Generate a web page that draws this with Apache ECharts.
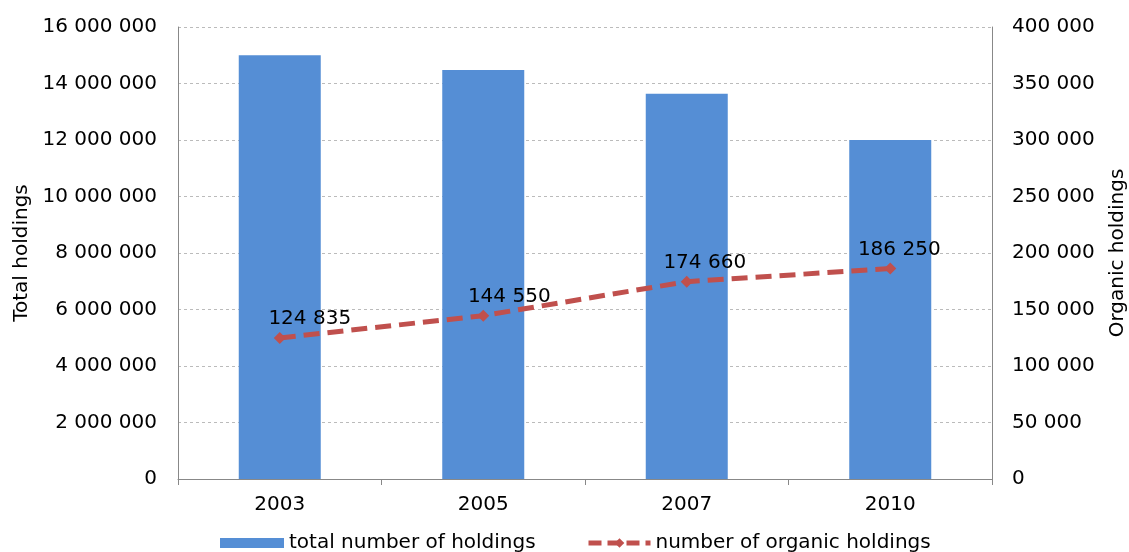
<!DOCTYPE html>
<html><head><meta charset="utf-8">
<script src="https://cdn.jsdelivr.net/npm/echarts@6/dist/echarts.min.js"></script>
<style>html,body{margin:0;padding:0;background:#fff}#c{width:1129px;height:552px}</style>
</head><body><div id="c"></div>
<script>
const categories = ['2003', '2005', '2007', '2010'];
const totalHoldings = [15000000, 14480000, 13640000, 12000000];
const organicHoldings = [124835, 144550, 174660, 186250];
const leftTicks = [0, 2000000, 4000000, 6000000, 8000000, 10000000, 12000000, 14000000, 16000000];
const rightTicks = [0, 50000, 100000, 150000, 200000, 250000, 300000, 350000, 400000];

const labelOffsets = [[30, 0], [26, 0], [18, 0], [9, 0]];
const fmt = v => String(v).replace(/\B(?=(\d{3})+(?!\d))/g, ' ');
const FONT = 'DejaVu Sans';
const FS = 20;

const chart = echarts.init(document.getElementById('c'), null, {renderer: 'canvas'});
chart.setOption({
  animation: false,
  textStyle: {fontFamily: FONT, color: '#000'},
  grid: {left: 178, right: 137, top: 27, bottom: 73, outerBoundsMode: 'none', containLabel: false},
  legend: [
    {data: ['total number of holdings'], left: 215, top: 528, itemWidth: 64, itemHeight: 10, itemGap: 6,
     icon: 'rect',
     textStyle: {fontFamily: FONT, fontSize: FS, color: '#000'}},
    {data: ['number of organic holdings'], left: 581, top: 528, itemWidth: 62, itemHeight: 12, itemGap: 10,
     lineStyle: {width: 5, type: [13, 6], color: '#c0504d'},
     textStyle: {fontFamily: FONT, fontSize: FS, color: '#000'}}
  ],
  xAxis: {
    type: 'category', data: categories,
    axisLine: {lineStyle: {color: '#888', width: 1}},
    axisTick: {show: true, length: 6, lineStyle: {color: '#888'}},
    axisLabel: {fontFamily: FONT, fontSize: FS, color: '#000', margin: 16},
    splitLine: {show: false}
  },
  yAxis: [
    {type: 'value', min: 0, max: leftTicks[leftTicks.length - 1], interval: leftTicks[1] - leftTicks[0],
     name: 'Total holdings', nameLocation: 'middle', nameGap: 146, nameRotate: 90,
     nameTextStyle: {fontFamily: FONT, fontSize: FS, color: '#000'},
     axisLine: {show: true, lineStyle: {color: '#888'}},
     axisTick: {show: false},
     axisLabel: {fontFamily: FONT, fontSize: FS, color: '#000', margin: 21, formatter: fmt},
     splitLine: {show: true, lineStyle: {color: '#bbb', type: [3, 3], width: 1}}},
    {type: 'value', min: 0, max: rightTicks[rightTicks.length - 1], interval: rightTicks[1] - rightTicks[0],
     name: 'Organic holdings', nameLocation: 'middle', nameGap: 116, nameRotate: 90,
     nameTextStyle: {fontFamily: FONT, fontSize: FS, color: '#000'},
     axisLine: {show: true, lineStyle: {color: '#888'}},
     axisTick: {show: false},
     axisLabel: {fontFamily: FONT, fontSize: FS, color: '#000', margin: 20, formatter: fmt},
     splitLine: {show: false}}
  ],
  series: [
    {name: 'total number of holdings', type: 'bar', data: totalHoldings, barWidth: 82,
     itemStyle: {color: '#558ed5'}},
    {name: 'number of organic holdings', type: 'line', yAxisIndex: 1,
     data: organicHoldings.map((v, i) => ({value: v, label: {offset: labelOffsets[i]}})),
     symbol: 'diamond', symbolSize: 12, z: 5,
     lineStyle: {color: '#c0504d', width: 5, type: [16, 8]},
     itemStyle: {color: '#c0504d'},
     label: {show: true, position: 'top', distance: 3, fontFamily: FONT, fontSize: FS, color: '#000', formatter: p => fmt(p.value)}}
  ]
});
</script></body></html>
